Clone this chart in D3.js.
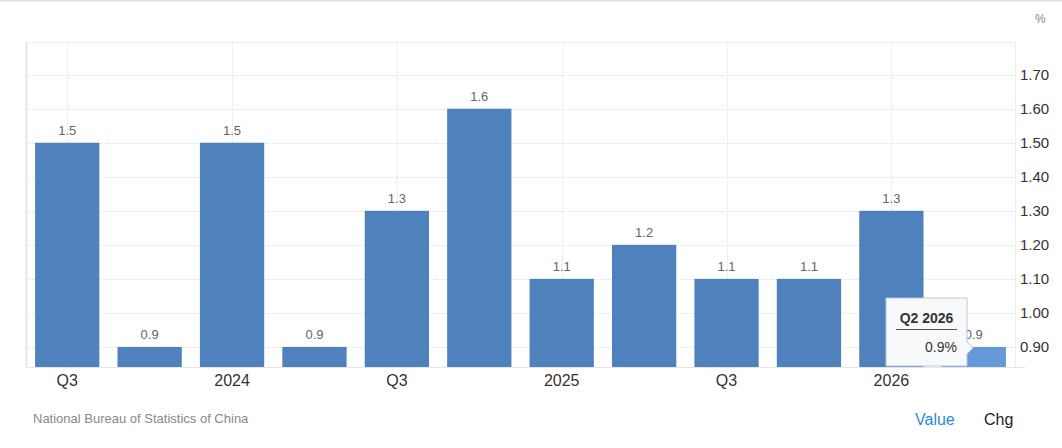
<!DOCTYPE html>
<html>
<head>
<meta charset="utf-8">
<script src="https://cdn.jsdelivr.net/npm/d3@7"></script>
<style>
  body { margin: 0; background: #fff; }
  svg { display: block; font-family: Arial, "Liberation Sans", sans-serif; }
</style>
</head>
<body>
<svg id="chart" width="1062" height="448"></svg>
<script>
// quarters from Q3 2023 to Q2 2026
var quarters = ["Q3 2023", "Q4 2023", "Q1 2024", "Q2 2024", "Q3 2024", "Q4 2024",
    "Q1 2025", "Q2 2025", "Q3 2025", "Q4 2025", "Q1 2026", "Q2 2026"];
var values = [1.5, 0.9, 1.5, 0.9, 1.3, 1.6, 1.1, 1.2, 1.1, 1.1, 1.3, 0.9];
var xTickLabels = ["Q3", "", "2024", "", "Q3", "", "2025", "", "Q3", "", "2026", ""];
var yTicks = [0.9, 1.0, 1.1, 1.2, 1.3, 1.4, 1.5, 1.6, 1.7];
var hovered = "Q2 2026";

var svg = d3.select("#chart");
// plot box (note: "top" is a reserved window property, so use prefixed names)
var plotLeft = 26, plotRight = 1015, plotTop = 42, plotBottom = 367;

var x = d3.scaleBand().domain(quarters).range([plotLeft, plotRight]).paddingInner(0.22).paddingOuter(0.11);
var y = d3.scaleLinear().domain([0.841, 1.796]).range([plotBottom, plotTop]);

// top page border
svg.append("line").attr("x1", 0).attr("x2", 1062).attr("y1", 0.5).attr("y2", 0.5)
    .attr("stroke", "#e2e2e2").attr("stroke-width", 2);

// horizontal grid
svg.append("g").selectAll("line").data(yTicks).join("line")
    .attr("x1", plotLeft).attr("x2", plotRight)
    .attr("y1", function (d) { return Math.round(y(d)) + 0.5; })
    .attr("y2", function (d) { return Math.round(y(d)) + 0.5; })
    .attr("stroke", "#e3e3e3").attr("stroke-dasharray", "1,1");
svg.append("line").attr("x1", plotLeft).attr("x2", plotRight).attr("y1", plotTop + 0.5).attr("y2", plotTop + 0.5)
    .attr("stroke", "#e3e3e3").attr("stroke-dasharray", "1,1");

// vertical grid at labelled ticks
svg.append("g").selectAll("line").data(quarters.filter(function (d, i) { return xTickLabels[i] !== ""; }))
    .join("line")
    .attr("x1", function (d) { return Math.round(x(d) + x.bandwidth() / 2) + 0.5; })
    .attr("x2", function (d) { return Math.round(x(d) + x.bandwidth() / 2) + 0.5; })
    .attr("y1", plotTop).attr("y2", plotBottom)
    .attr("stroke", "#e3e3e3").attr("stroke-dasharray", "1,1");

// plot frame edges
svg.append("line").attr("x1", plotLeft + 0.5).attr("x2", plotLeft + 0.5).attr("y1", plotTop).attr("y2", plotBottom)
    .attr("stroke", "#e6e6e6").attr("stroke-width", 2);
svg.append("line").attr("x1", plotRight + 0.5).attr("x2", plotRight + 0.5).attr("y1", plotTop).attr("y2", plotBottom)
    .attr("stroke", "#eeeeee");
svg.append("line").attr("x1", plotLeft).attr("x2", plotRight + 10).attr("y1", plotBottom + 0.5).attr("y2", plotBottom + 0.5)
    .attr("stroke", "#e6e6e6");

// bars
svg.append("g").selectAll("rect").data(quarters).join("rect")
    .attr("x", function (d) { return x(d); })
    .attr("width", x.bandwidth())
    .attr("y", function (d, i) { return y(values[i]); })
    .attr("height", function (d, i) { return plotBottom - y(values[i]); })
    .attr("fill", function (d) { return d === hovered ? "#6699d8" : "#4f81bd"; });

// value labels
svg.append("g").selectAll("text").data(quarters).join("text")
    .attr("x", function (d) { return x(d) + x.bandwidth() / 2; })
    .attr("y", function (d, i) { return y(values[i]) - 8; })
    .attr("text-anchor", "middle")
    .attr("font-size", 13).attr("fill", "#666")
    .text(function (d, i) { return values[i].toFixed(1); });

// x axis labels
svg.append("g").selectAll("text").data(quarters).join("text")
    .attr("x", function (d) { return x(d) + x.bandwidth() / 2; })
    .attr("y", 386)
    .attr("text-anchor", "middle")
    .attr("font-size", 16).attr("fill", "#333")
    .text(function (d, i) { return xTickLabels[i]; });

// y axis labels on the right
svg.append("g").selectAll("text").data(yTicks).join("text")
    .attr("x", 1020)
    .attr("y", function (d) { return y(d) + 5; })
    .attr("font-size", 15).attr("fill", "#333")
    .text(function (d) { return d.toFixed(2); });

svg.append("text").attr("x", 1035).attr("y", 23).attr("font-size", 12).attr("fill", "#888").text("%");

// tooltip for hovered bar
var hi = quarters.indexOf(hovered);
var tip = svg.append("g");
var tx = 886, ty = 298, tw = 81, th = 68;
var py = y(values[hi]) + 1;
tip.append("path")
    .attr("d", "M" + tx + "," + ty + "h" + tw + "V" + (py - 6) + "l6,6l-6,6V" + (ty + th) + "H" + tx + "Z")
    .attr("fill", "#f7f9fa").attr("stroke", "#b8c8dc").attr("stroke-width", 1);
tip.append("text").attr("x", tx + tw / 2).attr("y", ty + 25).attr("text-anchor", "middle")
    .attr("font-size", 14).attr("font-weight", "bold").attr("fill", "#333").text(hovered);
tip.append("line").attr("x1", tx + 10).attr("x2", tx + tw - 10).attr("y1", ty + 31.5).attr("y2", ty + 31.5)
    .attr("stroke", "#555");
tip.append("text").attr("x", tx + tw - 10).attr("y", ty + 54).attr("text-anchor", "end")
    .attr("font-size", 14).attr("fill", "#333").text(values[hi].toFixed(1) + "%");

// footer
svg.append("text").attr("x", 33).attr("y", 423).attr("font-size", 13).attr("fill", "#888")
    .text("National Bureau of Statistics of China");
svg.append("text").attr("x", 915).attr("y", 425).attr("font-size", 16).attr("fill", "#2a8bd6").text("Value");
svg.append("text").attr("x", 984).attr("y", 425).attr("font-size", 16).attr("fill", "#222").text("Chg");
</script>
</body>
</html>
